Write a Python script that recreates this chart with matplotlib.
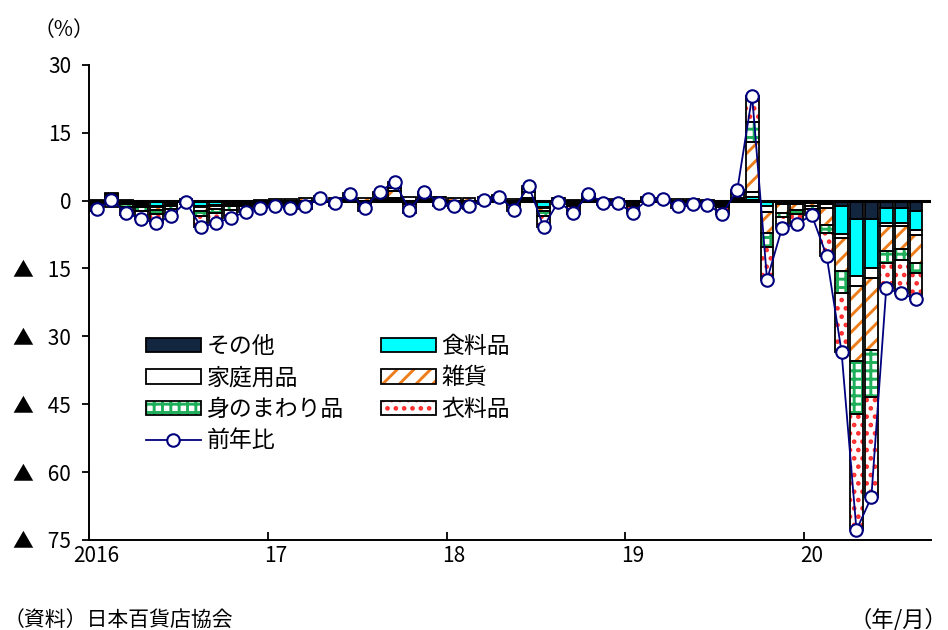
# -*- coding: utf-8 -*-

import matplotlib
matplotlib.use("Agg")
import matplotlib.pyplot as plt
import numpy as np
from matplotlib.patches import Patch
from matplotlib.lines import Line2D

plt.rcParams["font.family"] = ["Noto Sans CJK JP", "DejaVu Sans"]
plt.rcParams["hatch.linewidth"] = 2.1

# 2016/1 - 2020/8, contribution to y/y change (%)
yearLabels = ["2016", "17", "18", "19", "20"]

other = [-0.1, 0.1, -0.2, -0.2, -0.2, -0.1, -0.1, -0.3, -0.2, -0.2, -0.1, -0.1,
         -0.1, -0.1, -0.1, 0.0, -0.1, 0.1, -0.1, 0.1, 0.1, -0.1, 0.1, 0.0,
         -0.1, -0.1, 0.0, 0.0, -0.1, 0.1, -0.2, 0.0, -0.1, 0.1, 0.0, 0.0,
         -0.1, 0.0, 0.0, -0.1, 0.0, -0.1, -0.1, 0.1, 0.2, -0.2, -0.1, -0.1,
         -0.1, -0.2, -1.1, -4.1, -4.1, -1.6, -1.6, -2.2]
food = [-0.3, 0.8, -0.4, -0.6, -0.9, -0.6, 0.1, -0.9, -0.7, -0.5, -0.3, -0.2,
        -0.2, -0.4, -0.2, 0.1, -0.1, 0.2, -0.3, 0.2, 0.3, -0.3, 0.2, -0.1,
        -0.3, -0.3, 0.0, 0.1, -0.4, 0.3, -1.2, -0.1, -0.4, 0.1, -0.1, -0.1,
        -0.4, 0.2, 0.1, -0.2, -0.2, -0.2, -0.5, 0.3, 0.5, -1.0, -0.3, -0.4,
        -0.2, -0.5, -6.2, -12.6, -10.9, -3.4, -3.4, -4.4]
household = [-0.1, 0.1, -0.2, -0.2, -0.3, -0.2, 0.0, -0.3, -0.3, -0.2, -0.2, -0.1,
             -0.1, -0.1, -0.1, 0.0, -0.1, 0.1, -0.1, 0.1, 0.2, -0.1, 0.1, -0.1,
             -0.1, -0.1, 0.0, 0.0, -0.1, 0.1, -0.3, 0.0, -0.2, 0.1, -0.1, -0.1,
             -0.2, 0.0, 0.0, -0.1, -0.1, -0.1, -0.2, 0.2, 1.1, -1.3, -0.4, -0.3,
             -0.2, -0.9, -1.0, -2.2, -2.2, -0.7, -0.7, -1.1]
misc = [0.2, 0.5, 0.1, -0.4, -0.6, -0.3, 0.3, -0.7, -0.6, -0.4, -0.1, 0.1,
        0.3, 0.3, 0.5, 0.8, 0.6, 0.9, 0.6, 1.0, 1.6, 0.7, 1.0, 0.7,
        0.6, 0.5, 0.8, 0.9, 0.4, 1.5, -0.6, 0.5, 0.1, 0.7, 0.4, 0.3,
        0.0, 0.4, 0.4, 0.3, 0.3, 0.2, -0.2, 0.8, 11.1, -4.7, -2.0, -1.3,
        -0.8, -3.8, -7.3, -16.6, -15.8, -5.5, -5.0, -6.1]
personal = [-0.4, 0.1, -0.6, -0.8, -0.9, -0.7, -0.1, -1.1, -1.0, -0.7, -0.5, -0.3,
            -0.2, -0.3, -0.3, 0.1, -0.1, 0.3, -0.2, 0.3, 0.6, -0.3, 0.3, 0.0,
            -0.2, -0.2, 0.1, 0.2, -0.3, 0.5, -1.0, 0.0, -0.5, 0.3, -0.1, -0.1,
            -0.5, 0.1, 0.1, -0.2, -0.1, -0.1, -0.5, 0.4, 4.4, -3.0, -0.9, -0.9,
            -0.6, -1.8, -4.8, -11.7, -10.4, -2.7, -2.4, -2.2]
clothing = [-1.3, -1.4, -1.8, -1.9, -2.1, -1.5, -0.5, -2.5, -2.2, -1.8, -1.3, -1.0,
            -0.9, -1.0, -1.1, -0.4, -0.7, -0.1, -1.5, 0.3, 1.3, -1.9, 0.3, -1.0,
            -1.0, -1.1, -0.7, -0.3, -1.5, 0.8, -2.5, -0.6, -1.7, 0.2, -0.6, -0.6,
            -1.5, -0.3, -0.2, -1.0, -0.7, -0.7, -1.4, 0.5, 5.8, -7.3, -2.4, -2.2,
            -1.3, -5.0, -13.0, -25.6, -22.2, -5.5, -7.4, -5.8]
yoy = [-1.9, 0.2, -2.8, -4.0, -5.0, -3.4, -0.3, -5.8, -5.0, -3.8, -2.5, -1.6,
       -1.2, -1.6, -1.3, 0.6, -0.5, 1.5, -1.6, 2.0, 4.1, -2.0, 2.0, -0.5,
       -1.1, -1.3, 0.2, 0.9, -2.0, 3.3, -5.8, -0.2, -2.8, 1.5, -0.5, -0.6,
       -2.7, 0.4, 0.4, -1.3, -0.8, -1.0, -2.9, 2.3, 23.1, -17.5, -6.1, -5.2,
       -3.2, -12.2, -33.4, -72.8, -65.6, -19.4, -20.5, -21.8]

seriesNames = ["その他", "食料品", "家庭用品", "雑貨", "身のまわり品", "衣料品"]
seriesData = [other, food, household, misc, personal, clothing]
# (face, hatch, hatch colour)
seriesStyle = [
    ("#13263f", None, "#13263f"),
    ("#00ffff", None, "#00ffff"),
    ("white", None, "white"),
    ("white", "//", "#ee7d1c"),
    ("white", "++", "#1fae5a"),
    ("white", "..", "#ff2a2a"),
]

fig = plt.figure(figsize=(9.48, 6.3), dpi=100)
ax = fig.add_axes([0.094, 0.143, 0.888, 0.754])

x = np.arange(len(yoy))
width = 0.86
posBottom = np.zeros(len(x))
negBottom = np.zeros(len(x))
handles = {}

for name, vals, (face, hatch, hcol) in zip(seriesNames, seriesData, seriesStyle):
    vals = np.array(vals)
    bottom = np.where(vals >= 0, posBottom, negBottom)
    ax.bar(x, vals, width, bottom=bottom, color=face, edgecolor=hcol,
           hatch=hatch, linewidth=0, zorder=2)
    ax.bar(x, vals, width, bottom=bottom, fill=False, edgecolor="black",
           linewidth=1.3, zorder=3)
    proxyFill = Patch(facecolor=face, edgecolor=hcol, hatch=hatch, linewidth=0)
    proxyEdge = Patch(fill=False, edgecolor="black", linewidth=1.3)
    handles[name] = (proxyFill, proxyEdge)
    posBottom = np.where(vals >= 0, posBottom + vals, posBottom)
    negBottom = np.where(vals < 0, negBottom + vals, negBottom)

ax.axhline(0, color="black", linewidth=2.2, zorder=3)

lineColor = "#00007f"
ax.plot(x, yoy, color=lineColor, linewidth=1.3, marker="o", markersize=9,
        markerfacecolor="white", markeredgecolor=lineColor, markeredgewidth=1.5,
        zorder=5)
lineHandle = Line2D([], [], color=lineColor, linewidth=1.3, marker="o", markersize=9,
                    markerfacecolor="white", markeredgecolor=lineColor,
                    markeredgewidth=1.5)

ax.set_xlim(-0.5, 56.0)
ax.set_ylim(-75, 30)

yticks = np.arange(-75, 31, 15)
ax.set_yticks(yticks)
ax.set_yticklabels([str(v) if v >= 0 else "▲   " + str(-v) for v in yticks],
                   fontsize=15)
ax.set_xticks(np.arange(0, 56, 12))
ax.set_xticklabels(yearLabels, fontsize=15)
ax.set_xticks(np.arange(-0.5, 56, 12), minor=True)
ax.tick_params(axis="x", which="major", length=0, pad=4)
ax.tick_params(axis="x", which="minor", direction="in", length=6, width=1.3)
ax.tick_params(axis="y", direction="out", length=5, width=1.3, pad=8)

for side in ["top", "right"]:
    ax.spines[side].set_visible(False)
for side in ["left", "bottom"]:
    ax.spines[side].set_linewidth(1.4)

order = ["その他", "家庭用品", "身のまわり品", "前年比", "食料品", "雑貨", "衣料品"]
handles["前年比"] = lineHandle
ax.legend([handles[k] for k in order], order, loc="upper left",
          bbox_to_anchor=(0.043, 0.475), ncol=2, frameon=False, fontsize=16.5,
          handlelength=2.4, handleheight=0.6, columnspacing=1.6,
          labelspacing=0.37, handletextpad=0.25)

fig.text(0.035, 1 - 30 / 630, "（%）", fontsize=15, va="center")
fig.text(0.004, 1 - 620 / 630, "（資料）日本百貨店協会", fontsize=15, va="center")
fig.text(0.999, 1 - 620 / 630, "（年/月）", fontsize=16, va="center", ha="right")

fig.savefig("out.png", dpi=100)
plt.close(fig)
